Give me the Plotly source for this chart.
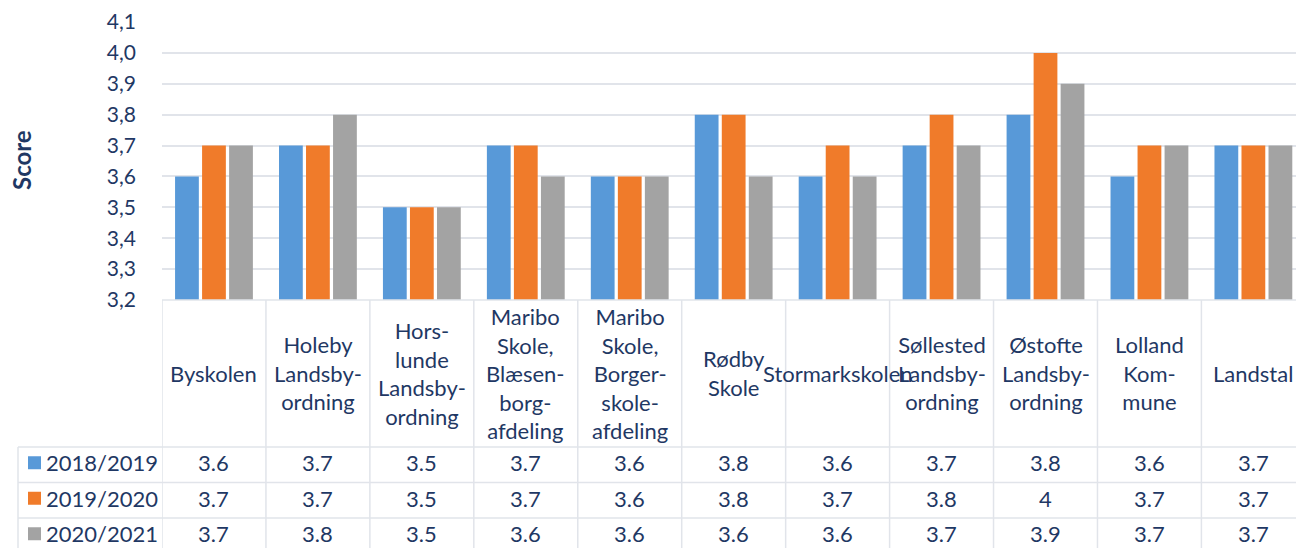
import plotly.graph_objects as go

# --- data ---
schools = ["Byskolen", "Holeby Landsbyordning", "Horslunde Landsbyordning",
           "Maribo Skole, Blæsenborgafdeling", "Maribo Skole, Borgerskoleafdeling",
           "Rødby Skole", "Stormarkskolen", "Søllested Landsbyordning",
           "Østofte Landsbyordning", "Lolland Kommune", "Landstal"]
school_labels = ["Byskolen", "Holeby<br>Landsby-<br>ordning", "Hors-<br>lunde<br>Landsby-<br>ordning",
                 "Maribo<br>Skole,<br>Blæsen-<br>borg-<br>afdeling",
                 "Maribo<br>Skole,<br>Borger-<br>skole-<br>afdeling",
                 "Rødby<br>Skole", "Stormarkskolen", "Søllested<br>Landsby-<br>ordning",
                 "Østofte<br>Landsby-<br>ordning", "Lolland<br>Kom-<br>mune", "Landstal"]
years = ["2018/2019", "2019/2020", "2020/2021"]
score_1819 = [3.6, 3.7, 3.5, 3.7, 3.6, 3.8, 3.6, 3.7, 3.8, 3.6, 3.7]
score_1920 = [3.7, 3.7, 3.5, 3.7, 3.6, 3.8, 3.7, 3.8, 4.0, 3.7, 3.7]
score_2021 = [3.7, 3.8, 3.5, 3.6, 3.6, 3.6, 3.6, 3.7, 3.9, 3.7, 3.7]
y_ticks = [3.2, 3.3, 3.4, 3.5, 3.6, 3.7, 3.8, 3.9, 4.0, 4.1]

series = [score_1819, score_1920, score_2021]
colors = ["#5899D8", "#F07B2A", "#A3A3A3"]
TEXT = "#1F3864"
GRID = "#E1E4EA"
FONT = "Lato, 'Open Sans', sans-serif"

# layout in pixels
W, H = 1296, 548
L, T, B = 162, 22, 248
plot_h = H - T - B
plot_w = W - L


def py(y):  # pixel y -> paper y
    return (H - B - y) / plot_h


def px(x):  # pixel x -> paper x
    return (x - L) / plot_w


fig = go.Figure()
for name, vals, col in zip(years, series, colors):
    fig.add_trace(go.Bar(x=schools, y=[v - 3.2 for v in vals], base=3.2, name=name,
                         marker=dict(color=col, line=dict(width=0)), showlegend=False))

ann = []
shapes = []

# header row: school names
for s, lab in zip(schools, school_labels):
    ann.append(dict(x=s, xref="x", y=py(373), yref="paper", text=lab, showarrow=False,
                    xanchor="center", yanchor="middle", align="center",
                    font=dict(size=22, color=TEXT, family=FONT)))

# data rows
row_tops = [447, 482.5, 518]
row_h = 35.5
for r, (name, vals, col) in enumerate(zip(years, series, colors)):
    yc = row_tops[r] + row_h / 2 - 2
    for s, v in zip(schools, vals):
        ann.append(dict(x=s, xref="x", y=py(yc), yref="paper", text=f"{v:g}", showarrow=False,
                        xanchor="center", yanchor="middle",
                        font=dict(size=22, color=TEXT, family=FONT)))
    ann.append(dict(x=px(44), xref="paper", y=py(yc), yref="paper", text=name, showarrow=False,
                    xanchor="left", yanchor="middle",
                    font=dict(size=22, color=TEXT, family=FONT)))
    shapes.append(dict(type="rect", xref="paper", yref="paper", x0=px(28), x1=px(41),
                       y0=py(yc + 6.5), y1=py(yc - 6.5), fillcolor=col, line=dict(width=0)))

# table borders
for i in range(len(schools) + 1):
    shapes.append(dict(type="line", xref="x", yref="paper", x0=i - 0.5, x1=i - 0.5,
                       y0=0, y1=py(H + 5), line=dict(color=GRID, width=1.5)))
shapes.append(dict(type="line", xref="paper", yref="paper", x0=0, x1=1, y0=0, y1=0,
                   line=dict(color=GRID, width=1.5)))
for yt in row_tops:
    shapes.append(dict(type="line", xref="paper", yref="paper", x0=px(18), x1=1,
                       y0=py(yt), y1=py(yt), line=dict(color=GRID, width=1.5)))
shapes.append(dict(type="line", xref="paper", yref="paper", x0=px(18), x1=px(18),
                   y0=py(row_tops[0]), y1=py(H + 5), line=dict(color=GRID, width=1.5)))

# y axis title
ann.append(dict(x=px(21), xref="paper", y=py(160), yref="paper", text="<b>Score</b>",
                showarrow=False, textangle=-90, xanchor="center", yanchor="middle",
                font=dict(size=24, color=TEXT, family=FONT)))

fig.update_layout(
    width=W, height=H,
    margin=dict(l=L, r=0, t=T, b=B),
    plot_bgcolor="white", paper_bgcolor="white",
    barmode="group", bargap=0.22, bargroupgap=0.12,
    separators=", ",
    xaxis=dict(showticklabels=False, showgrid=False, zeroline=False, showline=False,
               range=[-0.5, 10.41]),
    yaxis=dict(range=[3.2, 4.1], tickvals=y_ticks, tickformat=".1f", showgrid=True,
               gridcolor=GRID, gridwidth=2, zeroline=False, showline=False,
               tickfont=dict(size=21, color=TEXT, family=FONT), ticklabelstandoff=25),
    annotations=ann, shapes=shapes,
)

fig.write_html("out.html", config={"displayModeBar": False},
               post_script="document.body.style.margin='0';")
